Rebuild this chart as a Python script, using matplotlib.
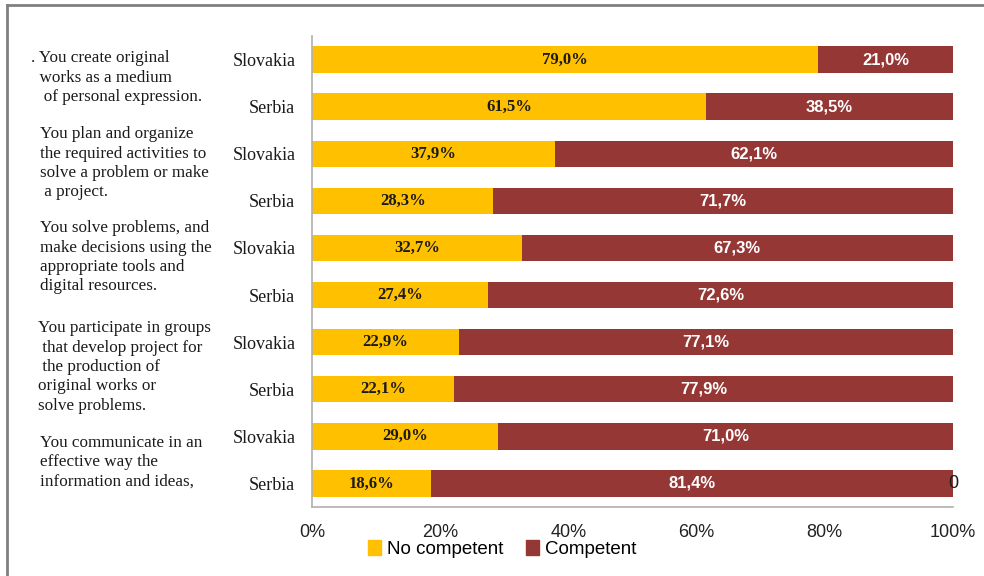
import matplotlib
matplotlib.use("Agg")
import matplotlib.pyplot as plt
from matplotlib.lines import Line2D
from matplotlib.patches import Patch
import numpy as np

# survey results, top row first
countries = ["Slovakia", "Serbia"] * 5
no_competent = [79.0, 61.5, 37.9, 28.3, 32.7, 27.4, 22.9, 22.1, 29.0, 18.6]
competent = [21.0, 38.5, 62.1, 71.7, 67.3, 72.6, 77.1, 77.9, 71.0, 81.4]
xticks = [0, 20, 40, 60, 80, 100]

statements = [
    [". You create original", "  works as a medium", "   of personal expression."],
    ["You plan and organize", "the required activities to",
     "solve a problem or make", " a project."],
    ["You solve problems, and", "make decisions using the",
     "appropriate tools and", "digital resources."],
    ["You participate in groups", " that develop project for",
     " the production of", "original works or", "solve problems."],
    ["You communicate in an", "effective way the", "information and ideas,"],
]

W, H = 984, 576
YELLOW = "#FFC000"
RED = "#953735"

fig = plt.figure(figsize=(W / 100, H / 100), dpi=100)
fig.patch.set_facecolor("white")


def fx(px):
    return px / W


def fy(py):
    return 1 - py / H


ax = fig.add_axes([fx(312), fy(507), fx(953) - fx(312), fy(36) - fy(507)])

y = np.arange(len(countries))
h = 0.56
ax.barh(y, no_competent, height=h, color=YELLOW, label="No competent")
ax.barh(y, competent, left=no_competent, height=h, color=RED, label="Competent")

for i, (a, b) in enumerate(zip(no_competent, competent)):
    ax.text(a / 2, i, f"{a:.1f}%".replace(".", ","), ha="center", va="center",
            fontsize=12, fontweight="bold", family="Liberation Serif", color="#1a1a1a")
    ax.text(a + b / 2, i, f"{b:.1f}%".replace(".", ","), ha="center", va="center",
            fontsize=12, fontweight="bold", family="Liberation Sans", color="white")
# zero-valued third series label on the last bar
ax.text(100, len(countries) - 1, "0", ha="center", va="center",
        fontsize=13, family="Liberation Sans", color="#1a1a1a")

ax.set_xlim(0, 100)
ax.set_ylim(len(countries) - 0.5, -0.5)
ax.set_xticks(xticks)
ax.set_xticklabels([f"{t}%" for t in xticks], family="Liberation Sans",
                   fontsize=13, color="#222222")
ax.set_yticks(y)
ax.set_yticklabels(countries, family="Liberation Serif", fontsize=13, color="#1a1a1a")
ax.tick_params(axis="both", length=0)
ax.tick_params(axis="y", pad=12)
ax.tick_params(axis="x", pad=12)
for s in ["top", "right"]:
    ax.spines[s].set_visible(False)
for s in ["left", "bottom"]:
    ax.spines[s].set_color("#b0b0b0")
    ax.spines[s].set_linewidth(1.2)

handles = [Patch(color=YELLOW, label="No competent"), Patch(color=RED, label="Competent")]
fig.legend(handles=handles, loc="center", bbox_to_anchor=(fx(502), fy(549)),
           ncol=2, frameon=False, handlelength=0.7, handleheight=0.9,
           handletextpad=0.3, columnspacing=1.2,
           prop={"family": "Liberation Sans", "size": 13.5})

# statements on the left
block_top = [58, 134, 228, 328, 443]
block_x = [31, 40, 40, 38, 40]
for lines, top, x0 in zip(statements, block_top, block_x):
    for k, line in enumerate(lines):
        fig.text(fx(x0), fy(top + 19.5 * k), line, ha="left", va="center",
                 family="Liberation Serif", fontsize=12.3, color="#1a1a1a")

# outer frame
fig.add_artist(Line2D([fx(7), fx(7)], [fy(5), 0], color="#808080", lw=2))
fig.add_artist(Line2D([fx(7), 1], [fy(5), fy(5)], color="#808080", lw=2))

fig.savefig("out.png", dpi=100)
